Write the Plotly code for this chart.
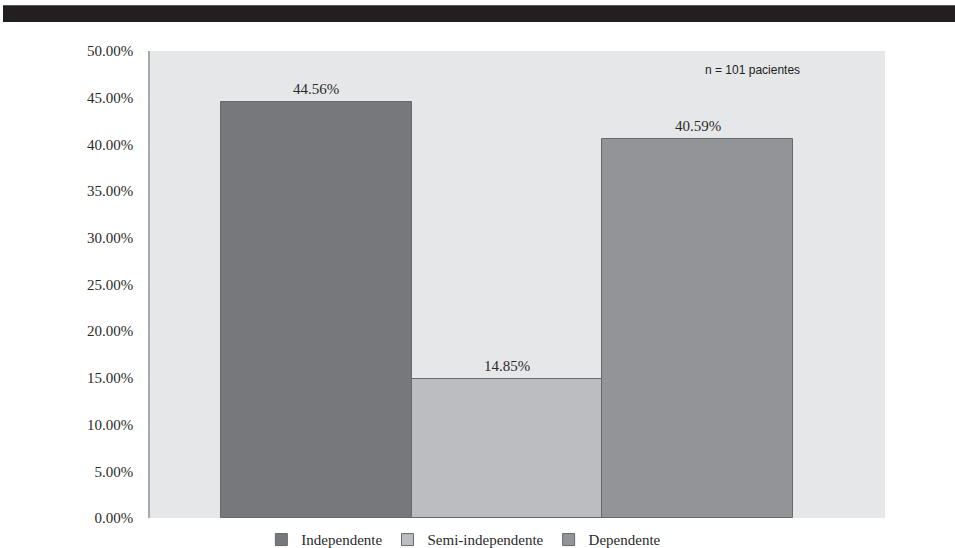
import plotly.graph_objects as go

# Functional status of patients (share of the sample, %)
categories = ["Independente", "Semi-independente", "Dependente"]
values = [44.56, 14.85, 40.59]
colors = ["#77787c", "#bcbdc1", "#939498"]
y_ticks = [0, 5, 10, 15, 20, 25, 30, 35, 40, 45, 50]
note_text = "n = 101 pacientes"

serif = "Liberation Serif, Times New Roman, serif"
sans = "Liberation Sans, Arial, sans-serif"

fig = go.Figure()
for i, (name, val, col) in enumerate(zip(categories, values, colors)):
    fig.add_trace(go.Bar(
        x=[i], y=[val], name=name, width=1,
        marker=dict(color=col, line=dict(color="#68696c", width=1)),
        hoverinfo="name+y",
    ))
    fig.add_annotation(
        x=i, y=val, text=f"{val:.2f}%", showarrow=False,
        yanchor="bottom", yshift=3,
        font=dict(family=serif, size=15, color="#2a2a2a"),
    )

fig.add_annotation(
    xref="paper", yref="paper", x=0.82, y=0.96, text=note_text,
    showarrow=False, xanchor="center", yanchor="middle",
    font=dict(family=sans, size=12, color="#222222"),
)

# dark band across the top of the page
fig.add_shape(
    type="rect", xref="paper", yref="paper",
    x0=-0.2, x1=1.1, y0=1.062, y1=1.098,
    fillcolor="#231f20", line=dict(width=0), layer="above",
)

fig.update_layout(
    width=955, height=548,
    margin=dict(l=150, r=70, t=51, b=30, autoexpand=False),
    paper_bgcolor="white",
    plot_bgcolor="#e6e7e9",
    barmode="overlay",
    bargap=0,
    showlegend=True,
    legend=dict(
        orientation="h", x=0.427, xanchor="center",
        yref="container", y=0.045, yanchor="top",
        font=dict(family=serif, size=15, color="#2a2a2a"),
        itemwidth=30, tracegroupgap=0, bgcolor="rgba(0,0,0,0)",
    ),
    xaxis=dict(
        range=[-0.872, 2.982], showticklabels=False, showgrid=False,
        zeroline=False, showline=False, ticks="", fixedrange=True,
    ),
    yaxis=dict(
        range=[0, 50], tickvals=y_ticks,
        ticktext=[f"{v:.2f}%" for v in y_ticks],
        showgrid=False, zeroline=False,
        showline=True, linecolor="#a9a9ab", linewidth=1.5,
        ticks="", ticklen=0, ticklabelstandoff=12,
        tickfont=dict(family=serif, size=15, color="#2a2a2a"),
        fixedrange=True,
    ),
)

fig.write_html("out.html")
